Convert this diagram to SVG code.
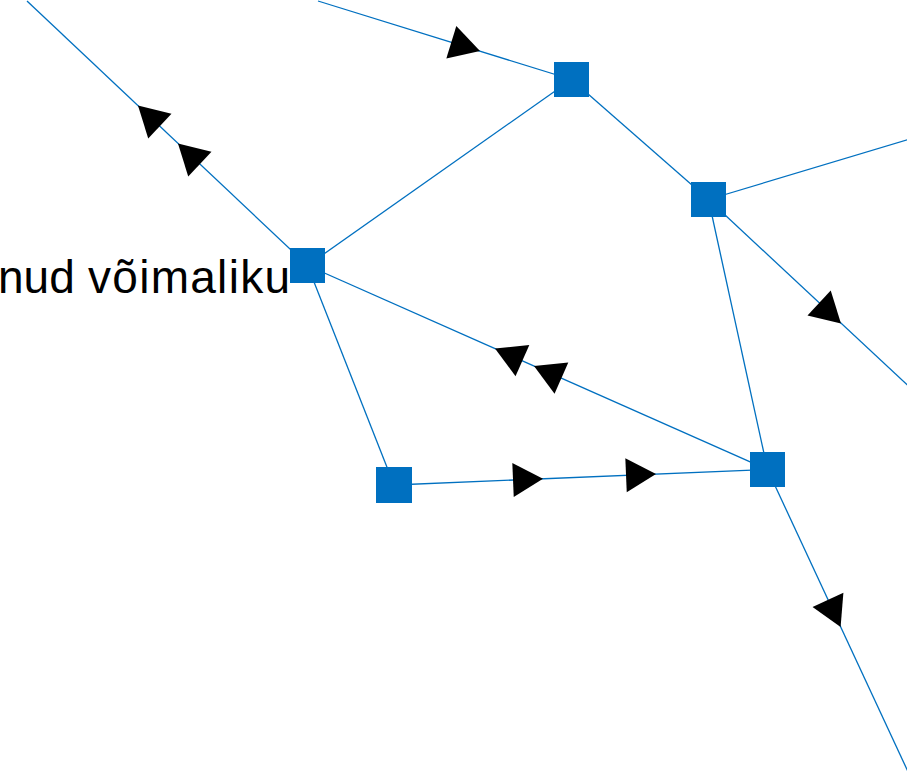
<svg xmlns="http://www.w3.org/2000/svg" width="907" height="776" viewBox="0 0 907 776">
<style>
.edge{stroke:#0070C0;stroke-width:1.3;fill:none}
.node{fill:#0070C0}
.lbl{font-family:"Liberation Sans",Arial,sans-serif;font-size:46px;fill:#000}
</style>
<defs>
<path id="tri" d="M0,0 L-30,-17 L-30,17 Z" fill="#000"/>
</defs>
<rect width="907" height="776" fill="#fff"/>
<text class="lbl" y="293"><tspan x="-2">nud</tspan><tspan x="88" textLength="202" lengthAdjust="spacing">võimaliku</tspan></text>
<g id="connectors">
<line class="edge" x1="27" y1="1" x2="307.5" y2="265.5"/>
<line class="edge" x1="318" y1="1" x2="571.5" y2="79.5"/>
<line class="edge" x1="571.5" y1="79.5" x2="307.5" y2="265.5"/>
<line class="edge" x1="571.5" y1="79.5" x2="708.5" y2="199.5"/>
<line class="edge" x1="708.5" y1="199.5" x2="910" y2="139"/>
<line class="edge" x1="708.5" y1="199.5" x2="910" y2="387.5"/>
<line class="edge" x1="708.5" y1="199.5" x2="767.5" y2="469.5"/>
<line class="edge" x1="307.5" y1="265.5" x2="767.5" y2="469.5"/>
<line class="edge" x1="307.5" y1="265.5" x2="394" y2="485"/>
<line class="edge" x1="394" y1="485" x2="767.5" y2="469.5"/>
<line class="edge" x1="767.5" y1="469.5" x2="910" y2="776"/>
<use href="#tri" transform="translate(138,105.5) rotate(-136.8)"/>
<use href="#tri" transform="translate(178,143.5) rotate(-136.8)"/>
<use href="#tri" transform="translate(480,51) rotate(17.1)"/>
<use href="#tri" transform="translate(495,348.5) rotate(203.9)"/>
<use href="#tri" transform="translate(534,366) rotate(203.9)"/>
<use href="#tri" transform="translate(543,478.8) rotate(-2.4)"/>
<use href="#tri" transform="translate(656,474.1) rotate(-2.4)"/>
<use href="#tri" transform="translate(841,323.5) rotate(43.1)"/>
<use href="#tri" transform="translate(840.6,627) rotate(65.1)"/>
</g>
<g id="nA"><rect class="node" x="290" y="248" width="35" height="35"/></g>
<g id="nB"><rect class="node" x="554" y="62" width="35" height="35"/></g>
<g id="nC"><rect class="node" x="691" y="182" width="35" height="35"/></g>
<g id="nD"><rect class="node" x="376" y="467" width="36" height="36"/></g>
<g id="nE"><rect class="node" x="750" y="452" width="35" height="35"/></g>
</svg>
